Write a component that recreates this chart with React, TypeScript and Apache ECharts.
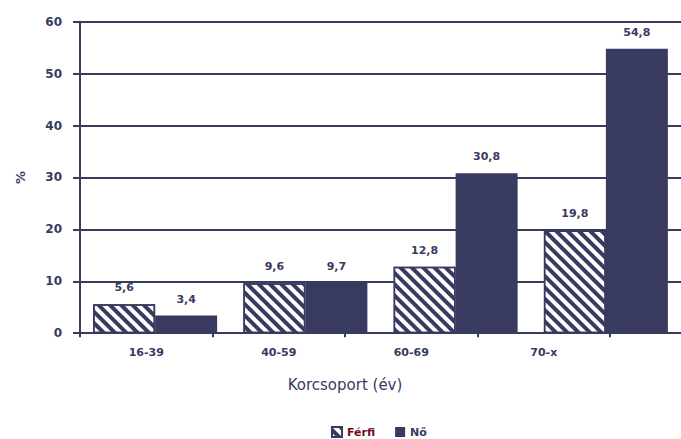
import React, { useEffect, useRef } from "react";
import * as echarts from "echarts";

const categories = ["16-39", "40-59", "60-69", "70-x"];
const ferfiValues = [5.6, 9.6, 12.8, 19.8];
const noValues = [3.4, 9.7, 30.8, 54.8];
const yTicks = { min: 0, max: 60, interval: 10 };

const NAVY = "#383a60";
const RED = "#6b0d1c";
const FONT = "DejaVu Sans";

export default function App() {
  const ref = useRef<HTMLDivElement>(null);
  useEffect(() => {
    document.body.style.margin = "0";
    const chart = echarts.init(ref.current!, null, { renderer: "svg" });
    const fmt = (p: any) => String(p.value).replace(".", ",");
    const barLabel = {
      show: true,
      position: "top" as const,
      distance: 11,
      color: NAVY,
      fontFamily: FONT,
      fontWeight: "bold" as const,
      fontSize: 11,
      formatter: fmt,
    };
    chart.setOption({
      animation: false,
      backgroundColor: "#ffffff",
      grid: [
        { left: 80, top: 21.7, right: -6, height: 311.5 },
        { left: 80, top: 21.7, width: 530, height: 311.5 },
      ],
      xAxis: [
        {
          type: "category",
          gridIndex: 0,
          data: categories,
          axisLine: { show: true, lineStyle: { color: NAVY, width: 2 } },
          axisTick: { show: false },
          axisLabel: { show: false },
          splitLine: { show: false },
        },
        {
          type: "category",
          gridIndex: 1,
          data: categories,
          axisLine: { show: false },
          axisTick: { show: true, length: 4, lineStyle: { color: NAVY, width: 2 } },
          axisLabel: {
            show: true,
            margin: 14,
            color: NAVY,
            fontFamily: FONT,
            fontWeight: "bold",
            fontSize: 11,
          },
          name: "Korcsoport (év)",
          nameLocation: "middle",
          nameGap: 44,
          nameTextStyle: { color: NAVY, fontFamily: FONT, fontSize: 15 },
        },
      ],
      yAxis: [
        {
          type: "value",
          gridIndex: 0,
          min: yTicks.min,
          max: yTicks.max,
          interval: yTicks.interval,
          axisLine: { show: true, lineStyle: { color: NAVY, width: 2 } },
          axisTick: { show: true, length: 7, lineStyle: { color: NAVY, width: 2 } },
          axisLabel: {
            margin: 18,
            color: NAVY,
            fontFamily: FONT,
            fontWeight: "bold",
            fontSize: 12,
          },
          splitLine: { show: true, lineStyle: { color: NAVY, width: 2 } },
          name: "%",
          nameLocation: "middle",
          nameGap: 53,
          nameRotate: 90,
          nameTextStyle: { color: NAVY, fontFamily: FONT, fontWeight: "bold", fontSize: 13 },
        },
        {
          type: "value",
          gridIndex: 1,
          min: yTicks.min,
          max: yTicks.max,
          show: false,
        },
      ],
      legend: {
        left: 326,
        top: 421,
        itemWidth: 10,
        itemHeight: 10,
        itemGap: 20,
        icon: "rect",
        textStyle: { fontFamily: FONT, fontWeight: "bold", fontSize: 11, color: NAVY },
        data: [
          { name: "Férfi", textStyle: { color: RED } },
          { name: "Nő", textStyle: { color: NAVY } },
        ],
      },
      series: [
        {
          name: "Férfi",
          type: "bar",
          xAxisIndex: 0,
          yAxisIndex: 0,
          data: ferfiValues,
          barWidth: 62,
          barGap: "0%",
          itemStyle: {
            color: "#ffffff",
            borderColor: NAVY,
            borderWidth: 1.5,
            decal: {
              symbol: "rect",
              symbolSize: 1,
              dashArrayX: [1, 0],
              dashArrayY: [3.5, 3.5],
              rotation: Math.PI / 4,
              color: NAVY,
            },
          },
          label: barLabel,
        },
        {
          name: "Nő",
          type: "bar",
          xAxisIndex: 0,
          yAxisIndex: 0,
          data: noValues,
          barWidth: 62,
          barGap: "0%",
          itemStyle: { color: NAVY },
          label: barLabel,
        },
      ],
    });
    return () => chart.dispose();
  }, []);
  return <div ref={ref} style={{ width: 681, height: 439 }} />;
}
